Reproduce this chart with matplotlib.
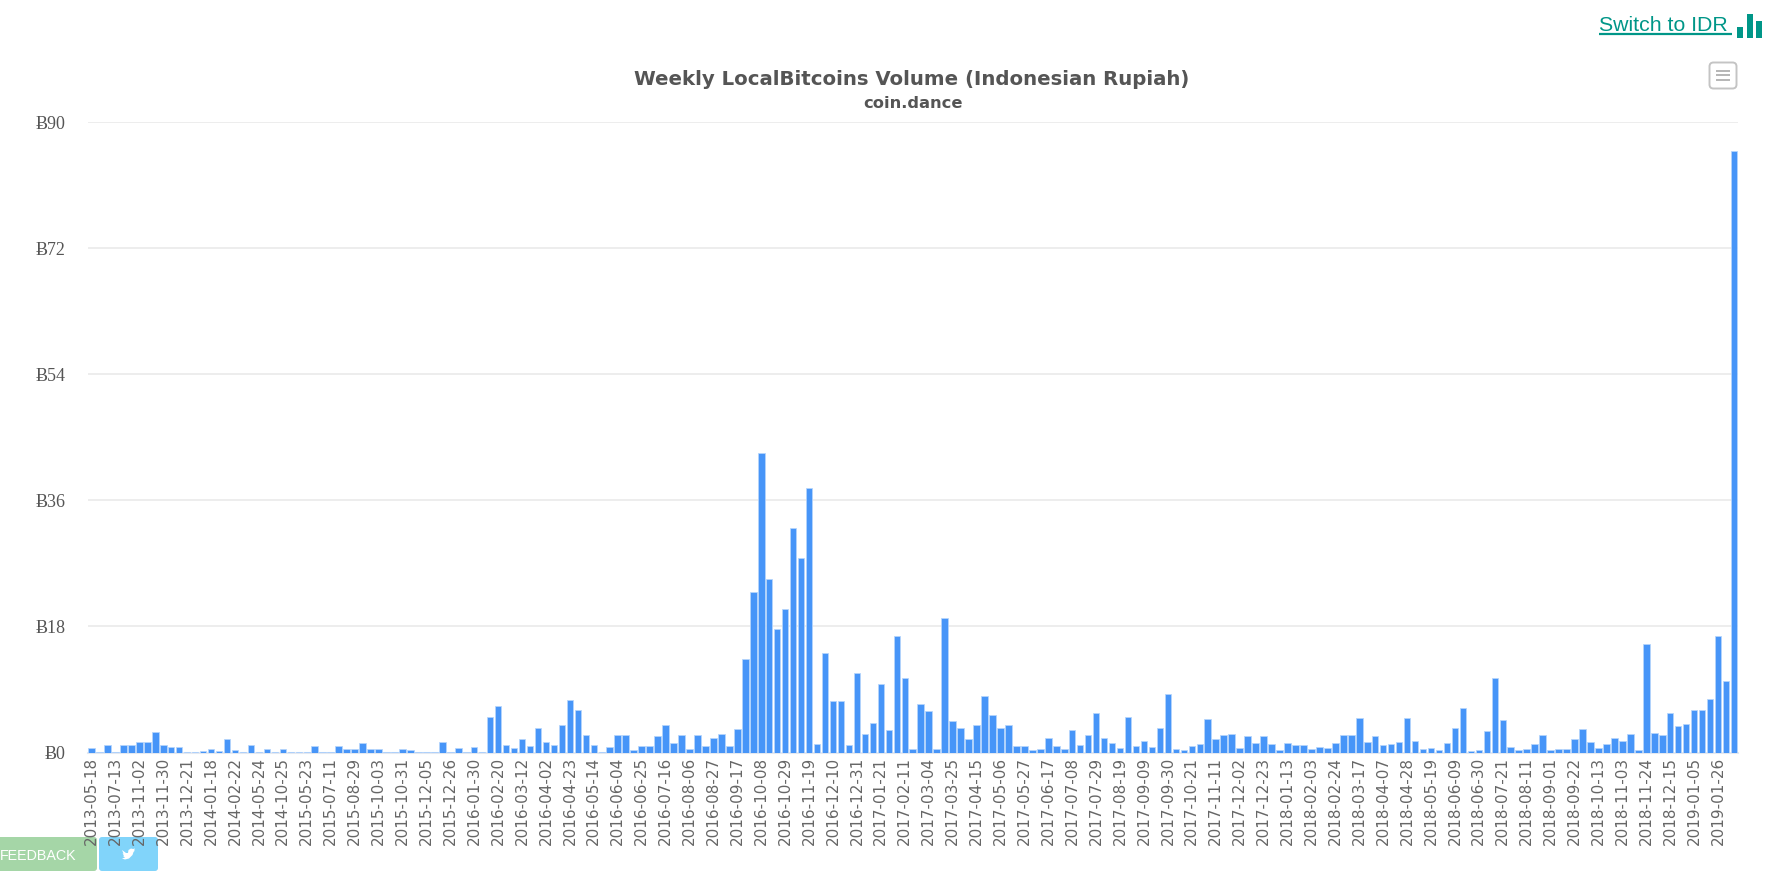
#!/usr/bin/env python3
import matplotlib
matplotlib.use('Agg')
import matplotlib.pyplot as plt
from matplotlib.patches import FancyBboxPatch, Rectangle, Polygon
from matplotlib.transforms import Bbox

W, H = 1780, 874

# weekly volume, one value per bar
volumes = [
    0.67, 0.14, 1.05, 0.14, 1.00, 1.00, 1.52, 1.52, 2.95, 1.00, 0.81, 0.81, 0.14, 0.14, 0.24, 0.43, 0.24, 1.95,
    0.38, 0.05, 1.00, 0.14, 0.43, 0.14, 0.52, 0.14, 0.05, 0.14, 0.86, 0.10, 0.05, 0.86, 0.43, 0.57, 1.29, 0.43,
    0.52, 0.14, 0.05, 0.43, 0.29, 0.10, 0.10, 0.14, 1.43, 0.14, 0.67, 0.14, 0.76, 0.14, 5.10, 6.57, 1.14, 0.67,
    1.90, 0.90, 3.43, 1.43, 1.10, 3.90, 7.52, 6.10, 2.57, 1.00, 0.10, 0.76, 2.57, 2.57, 0.38, 0.86, 0.86, 2.29,
    3.95, 1.33, 2.43, 0.48, 2.57, 0.95, 2.10, 2.67, 0.86, 3.38, 13.38, 22.90, 42.81, 24.81, 17.57, 20.43,
    32.10, 27.81, 37.81, 1.19, 14.24, 7.29, 7.38, 1.14, 11.33, 2.67, 4.24, 9.81, 3.19, 16.57, 10.71, 0.52,
    6.86, 5.90, 0.57, 19.19, 4.43, 3.52, 1.95, 3.90, 8.10, 5.38, 3.52, 3.90, 0.95, 0.90, 0.33, 0.57, 2.10, 0.86,
    0.57, 3.24, 1.00, 2.57, 5.71, 2.14, 1.38, 0.71, 5.14, 0.90, 1.71, 0.81, 3.57, 8.29, 0.43, 0.29, 0.90, 1.24,
    4.81, 1.95, 2.57, 2.71, 0.67, 2.33, 1.38, 2.38, 1.24, 0.38, 1.29, 1.00, 1.14, 0.43, 0.76, 0.67, 1.38, 2.52,
    2.57, 4.95, 1.57, 2.29, 1.00, 1.24, 1.57, 4.90, 1.67, 0.43, 0.71, 0.29, 1.33, 3.57, 6.38, 0.24, 0.38, 3.10,
    10.71, 4.57, 0.81, 0.33, 0.43, 1.19, 2.57, 0.33, 0.43, 0.43, 1.86, 3.33, 1.52, 0.67, 1.19, 2.05, 1.67, 2.71,
    0.29, 15.50, 2.81, 2.52, 5.57, 3.81, 4.14, 6.14, 6.14, 7.57, 16.66, 10.14, 85.90,
]

# every third week gets a label
date_labels = [
    '2013-05-18', '2013-07-13', '2013-11-02', '2013-11-30', '2013-12-21', '2014-01-18', '2014-02-22',
    '2014-05-24', '2014-10-25', '2015-05-23', '2015-07-11', '2015-08-29', '2015-10-03', '2015-10-31',
    '2015-12-05', '2015-12-26', '2016-01-30', '2016-02-20', '2016-03-12', '2016-04-02', '2016-04-23',
    '2016-05-14', '2016-06-04', '2016-06-25', '2016-07-16', '2016-08-06', '2016-08-27', '2016-09-17',
    '2016-10-08', '2016-10-29', '2016-11-19', '2016-12-10', '2016-12-31', '2017-01-21', '2017-02-11',
    '2017-03-04', '2017-03-25', '2017-04-15', '2017-05-06', '2017-05-27', '2017-06-17', '2017-07-08',
    '2017-07-29', '2017-08-19', '2017-09-09', '2017-09-30', '2017-10-21', '2017-11-11', '2017-12-02',
    '2017-12-23', '2018-01-13', '2018-02-03', '2018-02-24', '2018-03-17', '2018-04-07', '2018-04-28',
    '2018-05-19', '2018-06-09', '2018-06-30', '2018-07-21', '2018-08-11', '2018-09-01', '2018-09-22',
    '2018-10-13', '2018-11-03', '2018-11-24', '2018-12-15', '2019-01-05', '2019-01-26',
]
y_ticks = [0, 18, 36, 54, 72, 90]

fig = plt.figure(figsize=(W / 100, H / 100), dpi=100, facecolor='white')

# --- page furniture, in pixel coordinates (sits under the chart, labels run over the buttons) ---
pg = fig.add_axes([0, 0, 1, 1], zorder=1)
pg.set_xlim(0, W)
pg.set_ylim(H, 0)
pg.axis('off')

pg.text(912, 79.5, 'Weekly LocalBitcoins Volume (Indonesian Rupiah)', ha='center', va='center',
        fontsize=14.2, fontweight='bold', color='#555555', family='DejaVu Sans')
pg.text(913, 103, 'coin.dance', ha='center', va='center', fontsize=11.7, fontweight='bold',
        color='#555555', family='DejaVu Sans')

# switch link + bar icon
teal = '#009688'
pg.text(1599, 25.5, 'Switch to IDR', ha='left', va='center', fontsize=15.3, color=teal, family='Liberation Sans')
pg.plot([1599, 1732], [33.5, 33.5], color=teal, lw=1.6, solid_capstyle='butt')
for x0, y0 in [(1737.3, 26.7), (1746.7, 14), (1755.7, 21.3)]:
    pg.add_patch(Rectangle((x0, y0), 6, 37.7 - y0, facecolor=teal, edgecolor='none'))

# menu button
pg.add_patch(FancyBboxPatch((1711, 64), 24, 23, boxstyle='round,pad=1.5,rounding_size=4',
                            facecolor='white', edgecolor='#c4c4c4', linewidth=1.4))
for y in [70.7, 75.3, 80]:
    pg.plot([1716, 1730], [y, y], color='#b0b0b0', lw=1.3, solid_capstyle='butt')

# feedback / twitter buttons
pg.add_patch(FancyBboxPatch((-6, 839), 101, 30, boxstyle='round,pad=2,rounding_size=3',
                            facecolor='#a5d6a7', edgecolor='none'))
pg.text(0, 855.5, 'FEEDBACK', ha='left', va='center', fontsize=10.3, color='white', family='Liberation Sans')
pg.add_patch(FancyBboxPatch((101, 839), 55, 30, boxstyle='round,pad=2,rounding_size=3',
                            facecolor='#81d4fa', edgecolor='none'))
bird = [(122, 850), (126, 853), (128, 853), (128.5, 850), (131, 848.5), (133, 849), (135, 848.5), (134, 850.5),
        (135, 850.5), (133.5, 852), (132.5, 855), (129, 858.5), (125, 859.5), (122, 858.5), (125, 857.5),
        (123, 856), (124, 855.5), (122.5, 853.5), (123.5, 853.5)]
pg.add_patch(Polygon(bird, closed=True, facecolor='white', edgecolor='none'))

# --- chart ---
ax = fig.add_axes([87.5 / W, (H - 752.5) / H, 1650.5 / W, 630.2 / H], zorder=2)
ax.patch.set_alpha(0)
ax.bar(range(len(volumes)), volumes, width=0.82, color='#4192f8', edgecolor='#b5d5fc', linewidth=0.6,
       alpha=0.97, zorder=3)
ax.set_xlim(-0.5, len(volumes) - 0.5)
ax.set_ylim(0, 90)
ax.set_yticks(y_ticks)
ax.set_yticklabels([f'\u0243{v}' for v in y_ticks], family=['Liberation Serif', 'DejaVu Serif'],
                   fontsize=13, color='#555555')
ax.set_xticks(range(0, len(volumes), 3))
ax.set_xticklabels(date_labels, rotation=90, family='DejaVu Sans', fontsize=11, color='#666666')
ax.tick_params(axis='both', length=0)
ax.tick_params(axis='x', pad=3)
ax.tick_params(axis='y', pad=16)
ax.grid(axis='y', color='#ececec', linewidth=1.3, zorder=1)
ax.set_axisbelow(True)
for side in ['top', 'right', 'left']:
    ax.spines[side].set_visible(False)
ax.spines['bottom'].set_color('#e4e8f0')
ax.spines['bottom'].set_linewidth(1.5)

# the labels run off the bottom of the chart box
clip = Bbox([[0, H - 847], [W, H]])
for lab in ax.get_xticklabels():
    lab.set_clip_box(clip)
    lab.set_clip_on(True)

fig.savefig('out.png', dpi=100, facecolor='white')
